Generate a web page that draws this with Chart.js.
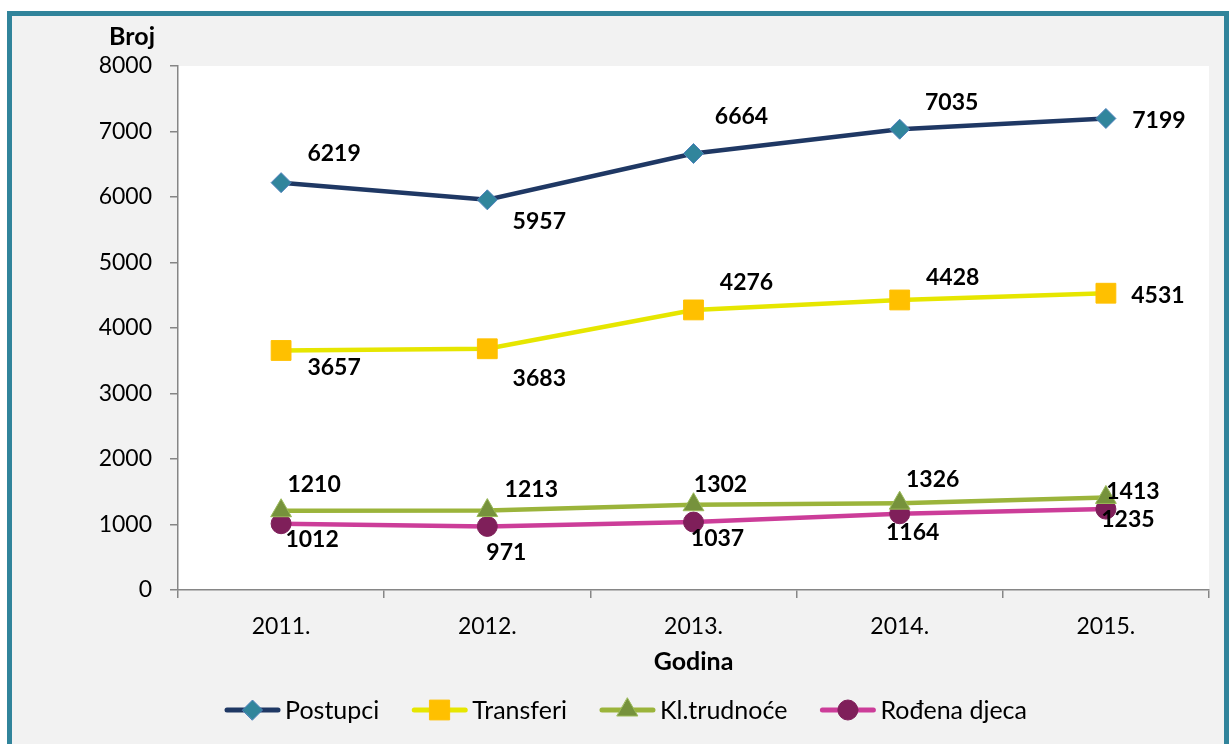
<!DOCTYPE html>
<html lang="hr">
<head>
<meta charset="UTF-8">
<title>Broj postupaka</title>
<script src="https://cdn.jsdelivr.net/npm/chart.js"></script>
<style>
    body {
        margin: 0;
        background: #ffffff;
        font-family: Lato, sans-serif;
    }
    .frame {
        position: absolute;
        left: 7px;
        top: 11px;
        width: 1222px;
        height: 770px;
        box-sizing: border-box;
        border: 5px solid #31849b;
        background: #f2f2f2;
    }
    canvas {
        position: absolute;
        left: 0;
        top: 0;
    }
</style>
</head>
<body>
<div class="frame">
    <canvas id="chart" width="1212" height="728"></canvas>
</div>
<script>
// podaci
const godine = ['2011.', '2012.', '2013.', '2014.', '2015.'];
const postupci = [6219, 5957, 6664, 7035, 7199];
const transferi = [3657, 3683, 4276, 4428, 4531];
const trudnoce = [1210, 1213, 1302, 1326, 1413];
const rodjenaDjeca = [1012, 971, 1037, 1164, 1235];

// pomaci oznaka vrijednosti (dx, dy) od tocke
const labelOffsets = [
    [[53, -29], [52, 22], [48, -37], [52, -27], [53, 2]],
    [[53, 17], [52, 30], [53, -27], [53, -22], [52, 2]],
    [[33, -26], [44, -21], [27, -20], [33, -24], [27, -6]],
    [[31, 16], [19, 26], [24, 17], [13, 19], [22, 10]]
];

const FONT = 'Lato, sans-serif';

const okvirPlugin = {
    id: 'okvir',
    beforeDraw(chart) {
        const a = chart.chartArea;
        const ctx = chart.ctx;
        ctx.save();
        ctx.fillStyle = '#ffffff';
        ctx.fillRect(a.left, a.top, a.right - a.left, a.bottom - a.top);
        ctx.restore();
    },
    afterDraw(chart) {
        const ctx = chart.ctx;
        const a = chart.chartArea;
        ctx.save();
        // oznake vrijednosti
        ctx.font = 'bold 23px ' + FONT;
        ctx.fillStyle = '#000000';
        ctx.textAlign = 'center';
        ctx.textBaseline = 'middle';
        chart.data.datasets.forEach((ds, i) => {
            const meta = chart.getDatasetMeta(i);
            meta.data.forEach((pt, j) => {
                const off = labelOffsets[i][j];
                ctx.fillText(ds.data[j], pt.x + off[0], pt.y + off[1]);
            });
        });

        // naslovi osi
        ctx.font = 'bold 25px ' + FONT;
        ctx.textAlign = 'right';
        ctx.fillText('Broj', a.left - 23, a.top - 29);
        ctx.textAlign = 'center';
        ctx.fillText('Godina', (a.left + a.right) / 2, a.bottom + 72);

        // legenda
        ctx.font = '25px ' + FONT;
        const lineW = 55, gap = 33, txtGap = 5;
        const items = chart.data.datasets.map(ds => ({
            ds, w: lineW + txtGap + ctx.measureText(ds.label).width
        }));
        const total = items.reduce((s, it) => s + it.w, 0) + gap * (items.length - 1);
        let x = chart.width / 2 + 8 - total / 2;
        const y = a.bottom + 120;
        items.forEach(it => {
            const ds = it.ds;
            ctx.strokeStyle = ds.borderColor;
            ctx.lineWidth = 5;
            ctx.lineCap = 'round';
            ctx.beginPath();
            ctx.moveTo(x + 2, y);
            ctx.lineTo(x + lineW - 2, y);
            ctx.stroke();
            ctx.fillStyle = ds.pointBackgroundColor;
            ctx.strokeStyle = ds.pointBorderColor;
            ctx.lineWidth = 1;
            Chart.helpers.drawPoint(ctx, {
                pointStyle: ds.pointStyle,
                radius: ds.pointRadius,
                rotation: 0,
                borderWidth: 1
            }, x + lineW / 2, y);
            ctx.fillStyle = '#000000';
            ctx.textAlign = 'left';
            ctx.fillText(ds.label, x + lineW + txtGap, y + 1);
            x += it.w + gap;
        });
        ctx.restore();
    }
};

const ctx = document.getElementById('chart').getContext('2d');
new Chart(ctx, {
    type: 'line',
    data: {
        labels: godine,
        datasets: [
            {
                label: 'Postupci',
                data: postupci,
                borderColor: '#1f3864',
                pointBackgroundColor: '#31859c',
                pointBorderColor: '#4f81bd',
                pointStyle: 'rectRot',
                pointRadius: 10
            },
            {
                label: 'Transferi',
                data: transferi,
                borderColor: '#e6e600',
                pointBackgroundColor: '#ffc000',
                pointBorderColor: '#ffc000',
                pointStyle: 'rect',
                pointRadius: 14
            },
            {
                label: 'Kl.trudnoće',
                data: trudnoce,
                borderColor: '#9bb43b',
                pointBackgroundColor: '#76923c',
                pointBorderColor: '#9bbb59',
                pointStyle: 'triangle',
                pointRadius: 12
            },
            {
                label: 'Rođena djeca',
                data: rodjenaDjeca,
                borderColor: '#cc3d99',
                pointBackgroundColor: '#7f1f5a',
                pointBorderColor: '#7f1f5a',
                pointStyle: 'circle',
                pointRadius: 10
            }
        ].map(d => Object.assign({
            borderWidth: 4.5,
            tension: 0,
            fill: false,
            pointBorderWidth: 1,
            pointHoverRadius: d.pointRadius
        }, d))
    },
    options: {
        responsive: false,
        animation: false,
        devicePixelRatio: 1,
        layout: {
            padding: { top: 50, right: 14, left: 0, bottom: 0 }
        },
        plugins: {
            legend: { display: false },
            tooltip: { enabled: false }
        },
        scales: {
            x: {
                offset: true,
                grid: {
                    display: true,
                    drawOnChartArea: false,
                    drawTicks: true,
                    tickLength: 8,
                    color: '#868686',
                    lineWidth: 1.5,
                    offset: true
                },
                border: { display: true, color: '#868686', width: 1.5 },
                ticks: {
                    color: '#000000',
                    font: { family: FONT, size: 23 },
                    padding: 15,
                    maxRotation: 0
                },
                afterFit(scale) { scale.height = 154; }
            },
            y: {
                min: 0,
                max: 8000,
                grid: {
                    display: true,
                    drawOnChartArea: false,
                    drawTicks: true,
                    tickLength: 8,
                    color: '#868686',
                    lineWidth: 1.5
                },
                border: { display: true, color: '#868686', width: 1.5 },
                ticks: {
                    stepSize: 1000,
                    color: '#000000',
                    font: { family: FONT, size: 23 },
                    padding: 18,
                    callback: v => String(v)
                },
                afterFit(scale) { scale.width = 166; }
            }
        }
    },
    plugins: [okvirPlugin]
});
</script>
</body>
</html>
